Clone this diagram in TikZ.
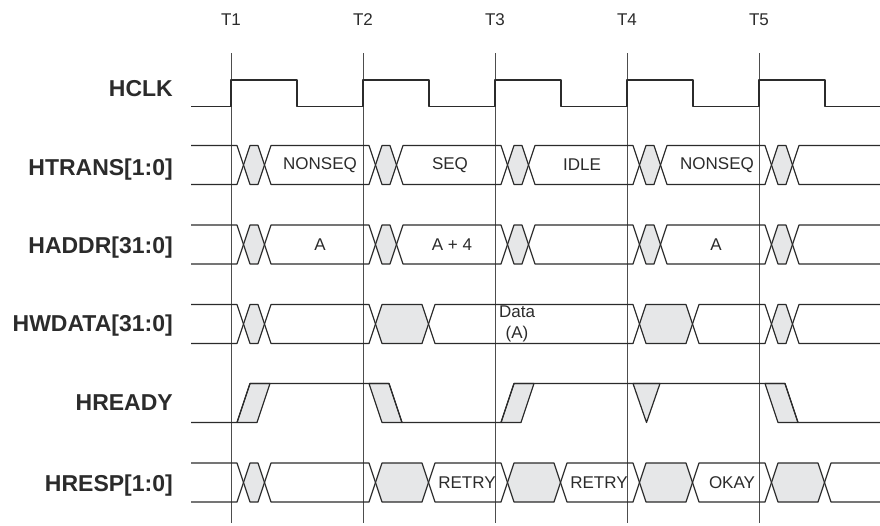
\documentclass[tikz,border=0pt]{standalone}
\usepackage{fontspec}
\setmainfont{Liberation Sans}

\definecolor{ink}{HTML}{2B2B2B}
\definecolor{shade}{HTML}{E6E7E8}
\definecolor{grid}{HTML}{4D4D4D}

% one bus window between two crossing points
\newcommand{\buscell}[4]{%
  \path[#4] (#1,#3) -- ++(6.5,-19.5) -- ({#2-6.5},{#3-19.5}) -- (#2,#3)
    -- ({#2-6.5},{#3+19.5}) -- ({#1+6.5},{#3+19.5}) -- cycle;}
% open ends of a bus
\newcommand{\busin}[2]{%
  \draw[wire] (191,{#2-19.5}) -- ({#1-6.5},{#2-19.5}) -- (#1,#2)
    -- ({#1-6.5},{#2+19.5}) -- (191,{#2+19.5});}
\newcommand{\busout}[2]{%
  \draw[wire] (880,{#2-19.5}) -- ({#1+6.5},{#2-19.5}) -- (#1,#2)
    -- ({#1+6.5},{#2+19.5}) -- (880,{#2+19.5});}

\begin{document}
\begin{tikzpicture}[x=1pt, y=-1pt,
wire/.style={draw=ink, line width=1.2pt, line join=round},
bus/.style={wire},
gap/.style={wire, fill=shade},
tick/.style={draw=grid, line width=0.7pt},
sig/.style={font=\fontsize{23}{26}\selectfont\bfseries, text=ink, anchor=base east, inner sep=0pt},
val/.style={font=\fontsize{17}{21}\selectfont, text=ink, align=center, inner sep=0pt}
]
\useasboundingbox (0,0) rectangle (880,525);

% clock edges
\foreach \i in {1,...,5} {
  \draw[tick] ({99+132*\i},53) -- ({99+132*\i},523);
  \node[val] (t\i) at ({99+132*\i},20) {T\i};
}

% signal names
\node[sig] (hclk) at (173,96.7) {HCLK};
\node[sig] (htrans) at (173,175) {HTRANS[1:0]};
\node[sig] (haddr) at (173,253.3) {HADDR[31:0]};
\node[sig] (hwdata) at (173,331.7) {HWDATA[31:0]};
\node[sig] (hready) at (173,410.7) {HREADY};
\node[sig] (hresp) at (173,491.7) {HRESP[1:0]};

% HCLK
\draw[wire] (191,106.5) -- (231,106.5) -- (231,80) -- (297,80) -- (297,106.5)
  -- (363,106.5) -- (363,80) -- (429,80) -- (429,106.5)
  -- (495,106.5) -- (495,80) -- (561,80) -- (561,106.5)
  -- (627,106.5) -- (627,80) -- (693,80) -- (693,106.5)
  -- (759,106.5) -- (759,80) -- (825,80) -- (825,106.5) -- (880,106.5);

% HTRANS and HADDR
\foreach \m in {165,244.5} {
  \busin{243.5}{\m}
  \foreach \a/\b/\st in {243.5/264.5/gap, 264.5/375.5/bus, 375.5/396.5/gap,
      396.5/507.5/bus, 507.5/528.5/gap, 528.5/639.5/bus, 639.5/660.5/gap,
      660.5/771.5/bus, 771.5/792.5/gap}
    \buscell{\a}{\b}{\m}{\st};
  \busout{792.5}{\m}
}
\node[val] (nonseqa) at (320,165) {NONSEQ};
\node[val] (seq) at (450,165) {SEQ};
\node[val] (idle) at (582,165) {IDLE};
\node[val] (nonseqb) at (717,165) {NONSEQ};
\node[val] (addra) at (320,244.5) {A};
\node[val] (addrb) at (452,244.5) {A + 4};
\node[val] (addrc) at (716,244.5) {A};

% HWDATA
\busin{243.5}{324}
\foreach \a/\b/\st in {243.5/264.5/gap, 264.5/375.5/bus, 375.5/428.5/gap,
    428.5/639.5/bus, 639.5/692.5/gap, 692.5/771.5/bus, 771.5/792.5/gap}
  \buscell{\a}{\b}{324}{\st};
\busout{792.5}{324}
\node[val] (data) at (517,324) {Data\\(A)};

% HREADY
\path[gap] (237,422.5) -- (250,383.5) -- (270,383.5) -- (257,422.5) -- cycle;
\path[gap] (369,383.5) -- (389,383.5) -- (402,422.5) -- (382,422.5) -- cycle;
\path[gap] (501,422.5) -- (514,383.5) -- (534,383.5) -- (521,422.5) -- cycle;
\path[gap] (633,383.5) -- (660,383.5) -- (646.5,422.5) -- cycle;
\path[gap] (765,383.5) -- (785,383.5) -- (798,422.5) -- (778,422.5) -- cycle;
\draw[wire] (191,422.5) -- (237,422.5) -- (250,383.5) -- (389,383.5) -- (402,422.5)
  -- (501,422.5) -- (514,383.5) -- (785,383.5) -- (798,422.5) -- (880,422.5);

% HRESP
\busin{243.5}{482.5}
\foreach \a/\b/\st in {243.5/264.5/gap, 264.5/375.5/bus, 375.5/428.5/gap,
    428.5/507.5/bus, 507.5/560.5/gap, 560.5/639.5/bus, 639.5/692.5/gap,
    692.5/771.5/bus, 771.5/824.5/gap}
  \buscell{\a}{\b}{482.5}{\st};
\busout{824.5}{482.5}
\node[val] (retrya) at (467,482.5) {RETRY};
\node[val] (retryb) at (599,482.5) {RETRY};
\node[val] (okay) at (732,482.5) {OKAY};
\end{tikzpicture}
\end{document}
